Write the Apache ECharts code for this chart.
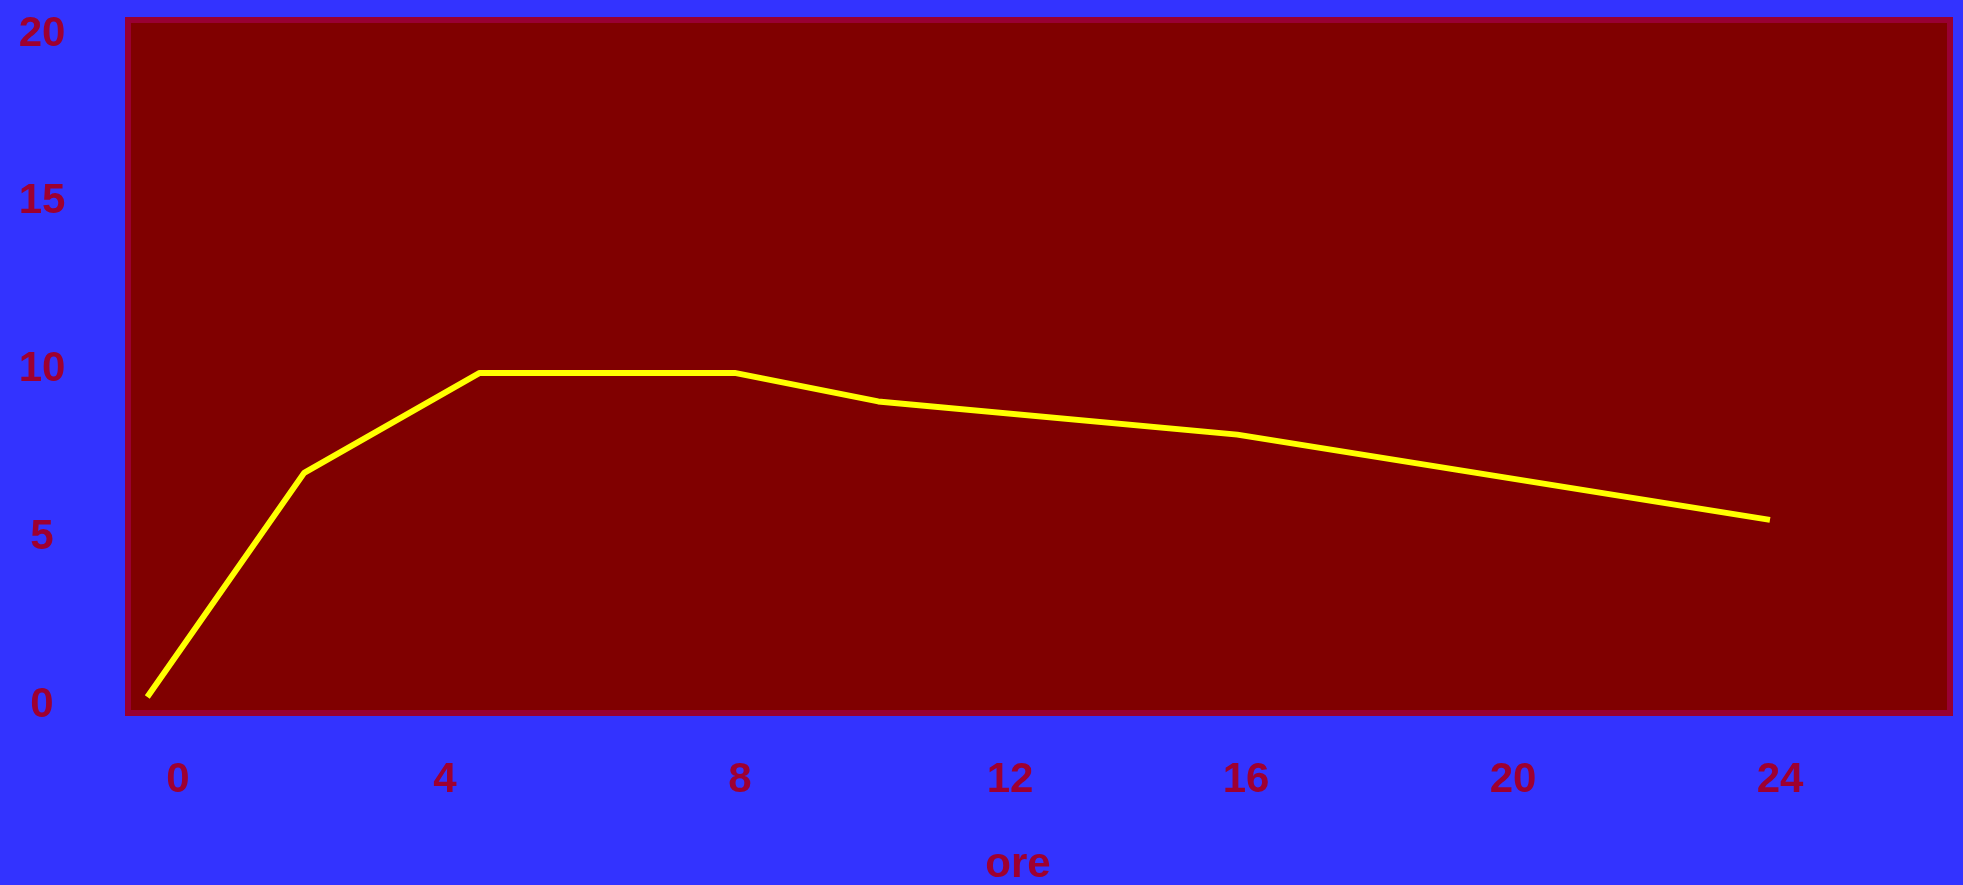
<!DOCTYPE html>
<html>
<head>
<meta charset="utf-8">
<style>
  html, body { margin: 0; padding: 0; background: #3333ff; }
  #chart { width: 1963px; height: 885px; }
</style>
<script src="https://cdn.jsdelivr.net/npm/echarts@6/dist/echarts.min.js"></script>
</head>
<body>
<div id="chart"></div>
<script>
// ---- data ----
var hours = [-0.46, 1.89, 4.52, 8.34, 10.49, 15.87, 23.85];
var levels = [0.09, 6.77, 9.75, 9.75, 8.90, 7.91, 5.37];
var xTicks = [0, 4, 8, 12, 16, 20, 24];
var yTicks = [0, 5, 10, 15, 20];
var xName = 'ore';

// ---- styling ----
var textColor = '#9e0030';
var labelFont = { fontFamily: 'Liberation Sans', fontSize: 42, fontWeight: 'bold', color: textColor };
// horizontal nudge (px) of some x tick labels, as placed in the reference
var xLabelNudge = { 8: 28, 12: 31 };

var points = hours.map(function (h, i) { return [h, levels[i]]; });

var richX = {};
Object.keys(xLabelNudge).forEach(function (k) {
  richX['s' + k] = Object.assign({}, labelFont, { padding: [0, 0, 0, 2 * xLabelNudge[k]] });
});
richX.n = Object.assign({}, labelFont);

var richY = { n: Object.assign({}, labelFont, { padding: [10, 0, 0, 0] }) };

var chart = echarts.init(document.getElementById('chart'), null, { renderer: 'canvas' });
chart.setOption({
  animation: false,
  backgroundColor: '#3333ff',
  grid: {
    show: true,
    left: 128, top: 20, right: 13, bottom: 172,
    backgroundColor: '#800000',
    borderColor: '#990033',
    borderWidth: 6,
    containLabel: false,
    outerBoundsMode: 'none'
  },
  xAxis: {
    type: 'value',
    min: -0.749, max: 26.547,
    name: xName,
    nameLocation: 'middle',
    nameGap: 131,
    nameTextStyle: Object.assign({}, labelFont, { padding: [0, 42, 0, 0] }),
    axisLine: { show: false },
    axisTick: { show: false },
    splitLine: { show: false },
    axisLabel: {
      customValues: xTicks,
      margin: 46,
      formatter: function (v) {
        return xLabelNudge[v] ? '{s' + v + '|' + v + '}' : '{n|' + v + '}';
      },
      rich: richX,
      fontFamily: labelFont.fontFamily, fontSize: 42, fontWeight: 'bold', color: textColor
    }
  },
  yAxis: {
    type: 'value',
    min: -0.387, max: 20.268,
    axisLine: { show: false },
    axisTick: { show: false },
    splitLine: { show: false },
    axisLabel: {
      customValues: yTicks,
      margin: 86,
      align: 'center',
      verticalAlign: 'middle',
      formatter: function (v) { return '{n|' + v + '}'; },
      rich: richY,
      fontFamily: labelFont.fontFamily, fontSize: 42, fontWeight: 'bold', color: textColor
    }
  },
  series: [{
    type: 'line',
    data: points,
    symbol: 'none',
    lineStyle: { color: '#ffff00', width: 6 },
    z: 3
  }]
});
</script>
</body>
</html>
